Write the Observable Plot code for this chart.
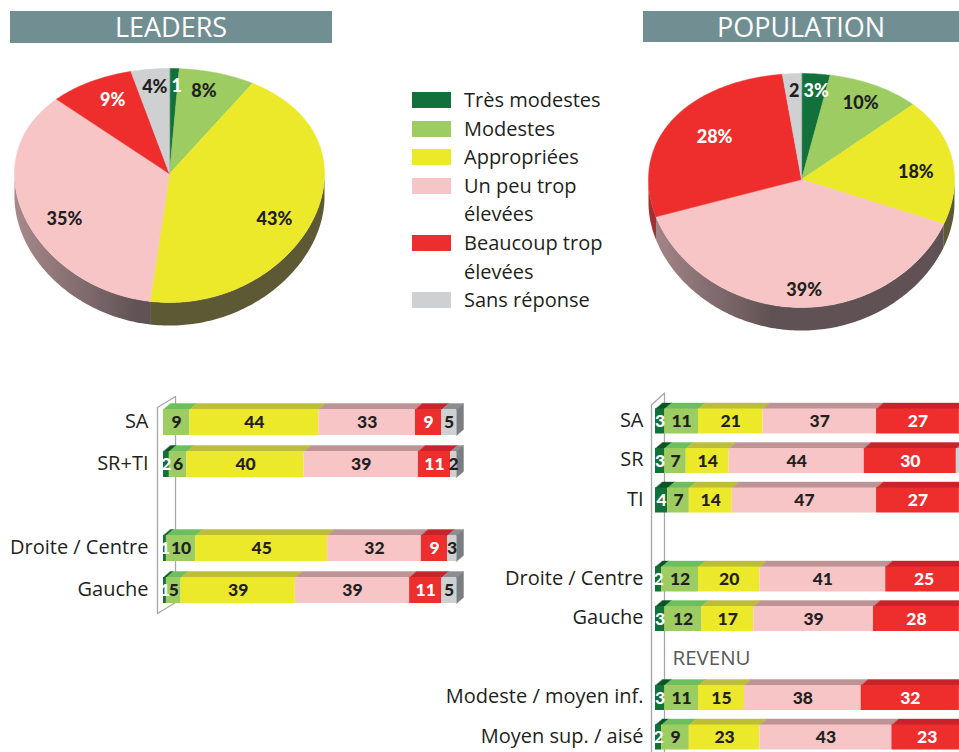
<!DOCTYPE html>
<html><head><meta charset="utf-8">
<script src="https://cdn.jsdelivr.net/npm/d3@7"></script>
<script src="https://cdn.jsdelivr.net/npm/@observablehq/plot@0.6"></script>
<style>
html,body{margin:0;padding:0;width:959px;height:752px;overflow:hidden;background:#fff;font-family:"Open Sans",sans-serif;color:#231f20}
#root{position:relative;width:959px;height:752px;overflow:hidden}
.abs{position:absolute}
.title{position:absolute;background:#718f93;color:#fff;font-size:27px;text-align:center;line-height:32px;font-family:"Open Sans",sans-serif}
.legend{position:absolute;left:412px;top:86px;font-size:20px;color:#231f20}
.item{display:flex;align-items:flex-start;line-height:28.6px}
.sw{width:39px;height:16px;margin-top:6px;margin-right:13px;flex:none}
svg{display:block}
</style>
</head><body>
<div id="root">
  <div class="title" style="left:10px;top:11px;width:322px;height:32px">LEADERS</div>
  <div class="title" style="left:643px;top:11px;width:316px;height:31px;line-height:31px;padding-right:4px">POPULATION</div>
  <div class="abs" id="pieL" style="left:0;top:50px;width:340px;height:290px"></div>
  <div class="abs" id="pieP" style="left:620px;top:50px;width:339px;height:290px"></div>
  <div class="legend" id="legend"></div>
  <div class="abs" id="barsL" style="left:0;top:380px;width:480px;height:240px"></div>
  <div class="abs" id="barsP" style="left:380px;top:380px;width:579px;height:372px"></div>
</div>
<script>
// ---------- DATA ----------
const categories = ["Très modestes", "Modestes", "Appropriées", "Un peu trop élevées", "Beaucoup trop élevées", "Sans réponse"];
const legendLines = [["Très modestes"], ["Modestes"], ["Appropriées"], ["Un peu trop", "élevées"], ["Beaucoup trop", "élevées"], ["Sans réponse"]];

const leadersPie = [1, 8, 43, 35, 9, 4];
const populationPie = [3, 10, 18, 39, 28, 2];

const leadersRows = ["SA", "SR+TI", "", "Droite / Centre", "Gauche"];
const leadersValues = [
  [0, 9, 44, 33, 9, 5],
  [2, 6, 40, 39, 11, 2],
  null,
  [1, 10, 45, 32, 9, 3],
  [1, 5, 39, 39, 11, 5]
];

const populationRows = ["SA", "SR", "TI", "", "Droite / Centre", "Gauche", "REVENU", "Modeste / moyen inf.", "Moyen sup. / aisé"];
const populationValues = [
  [3, 11, 21, 37, 27, 1],
  [3, 7, 14, 44, 30, 2],
  [4, 7, 14, 47, 27, 1],
  null,
  [2, 12, 20, 41, 25, 0],
  [3, 12, 17, 39, 28, 1],
  null,
  [3, 11, 15, 38, 32, 1],
  [2, 9, 23, 43, 23, 0]
];

// ---------- STYLE ----------
const colors = ["#12703a", "#9ccc62", "#ece82a", "#f7c5c6", "#ee2e2d", "#cfd0d2"];
const topColors = ["#0b5424", "#6cbf5c", "#bcbe3a", "#bd9396", "#c8222a", "#8c8f92"];
const sideColors = ["#084a1f", "#5aa24c", "#a3a52f", "#a58083", "#a81c22", "#7a7d81"];
const textColors = ["#ffffff", "#231f20", "#231f20", "#231f20", "#ffffff", "#231f20"];

// ---------- LEGEND ----------
const legend = document.getElementById("legend");
categories.forEach((c, i) => {
  const it = document.createElement("div");
  it.className = "item";
  const sw = document.createElement("div");
  sw.className = "sw"; sw.style.background = colors[i];
  const tx = document.createElement("div");
  tx.innerHTML = legendLines[i].join("<br>");
  it.append(sw, tx);
  legend.append(it);
});

// ---------- PIES ----------
const svgNS = "http://www.w3.org/2000/svg";
const rimPoint = (deg, apex) => {
  const t = deg * Math.PI / 180, X = Math.sin(t), Z = -Math.cos(t);
  return [X, Z + apex * (1 - Z * Z)];
};
const sideShade = (i, x) => {
  const t = Math.max(0, Math.min(1, (x + 1) / 0.8));
  return d3.interpolateRgb(colors[i], "#3a3538")(0.42 + 0.38 * t);
};

function pieData(values, geo) {
  const total = d3.sum(values);
  const ends = Array.from(d3.cumsum(values), v => v / total * 360);
  const tops = [], sides = [], labels = [], gradients = [];
  const rxPx = (geo.xRange[1] - geo.xRange[0]) / 2;
  values.forEach((v, i) => {
    if (!v) return;
    const a0 = i ? ends[i - 1] : 0, a1 = ends[i];
    const n = Math.max(2, Math.ceil(a1 - a0));
    tops.push({id: "t" + i, x: 0, y: geo.apex, fill: colors[i]});
    for (let k = 0; k <= n; k++) {
      const [x, y] = rimPoint(a0 + (a1 - a0) * k / n, geo.apex);
      tops.push({id: "t" + i, x, y, fill: colors[i]});
    }
    const s0 = Math.max(a0, 90), s1 = Math.min(a1, 270);
    if (s1 > s0) {
      const m = Math.max(2, Math.ceil(s1 - s0));
      const rimPts = d3.range(m + 1).map(k => rimPoint(s0 + (s1 - s0) * k / m, geo.apex));
      const gid = `${geo.id}-g${i}`;
      const pts = [...rimPts, ...rimPts.slice().reverse().map(([x, y]) => [x, y + geo.depth])];
      pts.forEach(([x, y]) => sides.push({id: "s" + i, x, y, fill: `url(#${gid})`}));
      const xs = rimPts.map(p => p[0]);
      const xa = d3.min(xs), xb = d3.max(xs);
      gradients.push({id: gid, stops: d3.range(11).map(k => ({offset: k / 10, color: sideShade(i, xa + (xb - xa) * k / 10)}))});
    }
    const midDeg = (a0 + a1) / 2, mid = midDeg * Math.PI / 180;
    const text = v <= 2 ? String(v) : v + "%";
    const y = -geo.fy * Math.cos(mid);
    if (a1 - a0 < 15) {
      // narrow slice: text hugs the slice edge on the 12 o'clock side
      const pad = 2 / rxPx;
      if (midDeg < 180) labels.push({x: geo.fx * Math.sin(a0 * Math.PI / 180) + pad, y, text, fill: textColors[i], anchor: "start"});
      else labels.push({x: geo.fx * Math.sin(a1 * Math.PI / 180) - pad, y, text, fill: textColors[i], anchor: "end"});
    } else {
      labels.push({x: geo.labelShift + geo.fx * Math.sin(mid), y, text, fill: textColors[i], anchor: "middle"});
    }
  });
  return {tops, sides, labels, gradients};
}

function pie(values, geo) {
  const {tops, sides, labels, gradients} = pieData(values, geo);
  const textOpts = {x: "x", y: "y", text: "text", fill: "fill", fontFamily: "Lato", fontWeight: 900, fontSize: 18};
  const svg = Plot.plot({
    width: geo.width, height: geo.height, margin: 0,
    x: {domain: [-1, 1], range: geo.xRange, axis: null},
    y: {domain: [-1, 1], range: geo.yRange, axis: null},
    color: {type: "identity"},
    style: {background: "transparent"},
    marks: [
      Plot.line(sides, {x: "x", y: "y", z: "id", fill: "fill", curve: "linear-closed"}),
      Plot.line(tops, {x: "x", y: "y", z: "id", fill: "fill", stroke: "fill", strokeWidth: 0.5, curve: "linear-closed"}),
      Plot.text(labels.filter(d => d.anchor === "middle"), {...textOpts, textAnchor: "middle"}),
      Plot.text(labels.filter(d => d.anchor === "start"), {...textOpts, textAnchor: "start"}),
      Plot.text(labels.filter(d => d.anchor === "end"), {...textOpts, textAnchor: "end"})
    ]
  });
  const defs = document.createElementNS(svgNS, "defs");
  gradients.forEach(g => {
    const lg = document.createElementNS(svgNS, "linearGradient");
    lg.setAttribute("id", g.id);
    lg.setAttribute("x1", "0"); lg.setAttribute("y1", "0"); lg.setAttribute("x2", "1"); lg.setAttribute("y2", "0");
    g.stops.forEach(s => {
      const st = document.createElementNS(svgNS, "stop");
      st.setAttribute("offset", s.offset);
      st.setAttribute("stop-color", s.color);
      lg.append(st);
    });
    defs.append(lg);
  });
  svg.insertBefore(defs, svg.firstChild);
  return svg;
}

document.getElementById("pieL").append(pie(leadersPie, {
  id: "pl", width: 340, height: 290, xRange: [14, 324], yRange: [18, 252], apex: -0.1, depth: 0.197, fx: 0.72, fy: 0.85, labelShift: 0
}));
document.getElementById("pieP").append(pie(populationPie, {
  id: "pp", width: 339, height: 290, xRange: [28, 334], yRange: [23, 257], apex: -0.094, depth: 0.197, fx: 0.72, fy: 0.85, labelShift: 0.04
}));

// ---------- BARS ----------
function bars(rows, table, geo) {
  const pxX = (geo.xRange[1] - geo.xRange[0]) / 100;
  const pxY = (geo.yRange[1] - geo.yRange[0]) / rows.length;
  const h = geo.barHeight / 2 / pxY, dxu = geo.depthX / pxX, dyu = geo.depthY / pxY;
  const visibleMax = (geo.width - geo.xRange[0]) / pxX; // right edge of the picture, in data units
  const fronts = [], faces = [], labels = [], names = [], headings = [];
  let first = null, lastRow = null;
  rows.forEach((name, i) => {
    const vals = table[i];
    if (!name) return;
    if (!vals) { headings.push({i, name}); return; }
    if (first === null) first = i;
    lastRow = i;
    names.push({i, name});
    const ends = Array.from(d3.cumsum(vals));
    let last = -1;
    vals.forEach((v, j) => { if (v > 0) last = j; });
    const yt = i - h, yb = i + h;
    vals.forEach((v, j) => {
      if (!(v > 0)) return;
      const x1 = ends[j] - v, x2 = ends[j];
      fronts.push({x1, x2, y1: yt, y2: yb, fill: colors[j]});
      const id = `f${i}_${j}`;
      [[x1, yt], [x2, yt], [x2 + dxu, yt - dyu], [x1 + dxu, yt - dyu]].forEach(([x, y]) => faces.push({id, x, y, fill: topColors[j]}));
      if (j === last) {
        const sid = `r${i}`;
        [[x2, yt], [x2 + dxu, yt - dyu], [x2 + dxu, yb - dyu], [x2, yb]].forEach(([x, y]) => faces.push({id: sid, x, y, fill: sideColors[j]}));
      }
      const half = String(v).length * 5 / pxX;
      if ((x1 + x2) / 2 + half <= visibleMax) labels.push({x: (x1 + x2) / 2, y: i, text: String(v), fill: textColors[j]});
    });
  });
  const w = geo.wall;
  const xl = w.x0 / pxX, xr = w.x1 / pxX;
  const yTop = first - h - w.top / pxY, yBot = lastRow + h + w.bottom / pxY, sl = w.slant / pxY;
  const wall = [[xl, yBot], [xl, yTop], [xr, yTop - sl], [xr, yBot - sl]].map(([x, y]) => ({x, y}));
  return Plot.plot({
    width: geo.width, height: geo.height, margin: 0,
    x: {domain: [0, 100], range: geo.xRange, axis: null},
    y: {domain: [-0.5, rows.length - 0.5], range: geo.yRange, axis: null},
    color: {type: "identity"},
    style: {background: "transparent", fontFamily: "Open Sans"},
    marks: [
      Plot.line(wall, {x: "x", y: "y", stroke: "#a5a7aa", strokeWidth: 1.3, curve: "linear-closed"}),
      Plot.line(faces, {x: "x", y: "y", z: "id", fill: "fill", stroke: "fill", strokeWidth: 0.4, curve: "linear-closed"}),
      Plot.rect(fronts, {x1: "x1", x2: "x2", y1: "y1", y2: "y2", fill: "fill"}),
      Plot.text(labels, {x: "x", y: "y", text: "text", fill: "fill", fontFamily: "Lato", fontWeight: 900, fontSize: 17.5}),
      Plot.text(names, {x: 0, y: "i", text: "name", textAnchor: "end", dx: geo.labelDx, dy: -1, fontSize: 20, fill: "#231f20"}),
      Plot.text(headings, {x: 0, y: "i", text: "name", textAnchor: "start", dx: 17, fontSize: 20.5, fill: "#58595b"})
    ]
  });
}

document.getElementById("barsL").append(bars(leadersRows, leadersValues, {
  width: 480, height: 240, xRange: [163, 456], yRange: [21, 231], barHeight: 26, depthX: 7, depthY: 6,
  labelDx: -15, wall: {x0: -6, x1: 12, top: 2, bottom: 10, slant: 11}
}));
document.getElementById("barsP").append(bars(populationRows, populationValues, {
  width: 579, height: 372, xRange: [275, 582], yRange: [21.25, 376.75], barHeight: 25, depthX: 7, depthY: 6,
  labelDx: -12, wall: {x0: -4, x1: 9, top: 4, bottom: 40, slant: 12}
}));
</script>
</body></html>
